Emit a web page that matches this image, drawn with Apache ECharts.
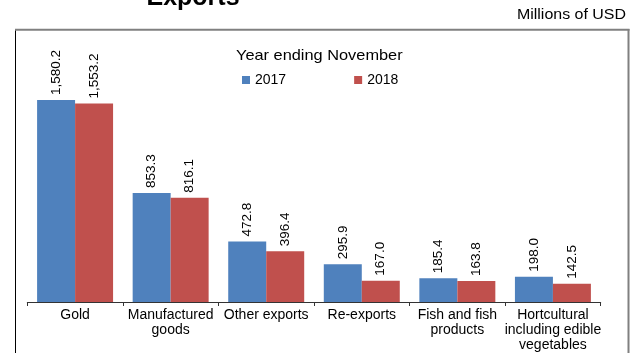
<!DOCTYPE html>
<html>
<head>
<meta charset="utf-8">
<script src="https://cdn.jsdelivr.net/npm/echarts@6/dist/echarts.min.js"></script>
<style>
  html, body { margin: 0; padding: 0; background: #fff; }
  #chart { width: 639px; height: 353px; }
</style>
</head>
<body>
<div id="chart"></div>
<script>
// Export categories (line breaks mark the wrapped axis labels)
const categories = [
  'Gold',
  'Manufactured\ngoods',
  'Other exports',
  'Re-exports',
  'Fish and fish\nproducts',
  'Hortcultural\nincluding edible\nvegetables'
];
const seriesNames = ['2017', '2018'];
// Millions of USD, year ending November
const values2017 = [1580.2, 853.3, 472.8, 295.9, 185.4, 198.0];
const values2018 = [1553.2, 816.1, 396.4, 167.0, 163.8, 142.5];

const FONT = '"Liberation Sans", Arial, sans-serif';

const fmt = v => v.toLocaleString('en-US', { minimumFractionDigits: 1, maximumFractionDigits: 1 });

const barLabel = {
  show: true,
  position: 'top',
  rotate: 90,
  align: 'left',
  verticalAlign: 'middle',
  distance: 5,
  color: '#000',
  fontFamily: FONT,
  fontSize: 13.5,
  formatter: p => fmt(p.value)
};

const chart = echarts.init(document.getElementById('chart'), null, { renderer: 'canvas' });

chart.setOption({
  animation: false,
  backgroundColor: '#ffffff',
  textStyle: { fontFamily: FONT },
  grid: { left: 27.3, right: 38.3, top: 46.3, bottom: 51 },
  legend: {
    data: seriesNames,
    icon: 'rect',
    itemWidth: 8,
    itemHeight: 8,
    itemGap: 68,
    padding: 0,
    left: 242,
    top: 73,
    textStyle: { color: '#000', fontSize: 14, fontFamily: FONT }
  },
  xAxis: {
    type: 'category',
    data: categories,
    boundaryGap: true,
    axisLine: { lineStyle: { color: '#333', width: 1 } },
    axisTick: { show: true, length: 4, lineStyle: { color: '#333' } },
    axisLabel: {
      interval: 0,
      margin: 6,
      color: '#000',
      fontSize: 14,
      lineHeight: 15,
      fontFamily: FONT
    }
  },
  yAxis: {
    type: 'value',
    min: 0,
    max: 2000,
    show: false,
    splitLine: { show: false }
  },
  series: [
    {
      name: seriesNames[0],
      type: 'bar',
      data: values2017,
      barGap: '0%',
      barCategoryGap: '20.5%',
      itemStyle: { color: '#4F81BD' },
      label: barLabel
    },
    {
      name: seriesNames[1],
      type: 'bar',
      data: values2018,
      barGap: '0%',
      barCategoryGap: '20.5%',
      itemStyle: { color: '#C0504D' },
      label: barLabel
    }
  ],
  graphic: [
    // frame around the chart area
    { type: 'line', shape: { x1: 15.5, y1: 29, x2: 15.5, y2: 353 }, style: { stroke: '#000', lineWidth: 1 } },
    { type: 'line', shape: { x1: 15, y1: 29.8, x2: 629.5, y2: 29.8 }, style: { stroke: '#808080', lineWidth: 2 } },
    { type: 'line', shape: { x1: 628.5, y1: 29, x2: 628.5, y2: 353 }, style: { stroke: '#808080', lineWidth: 2 } },
    // headline
    {
      type: 'text', x: 193, y: -2,
      style: { text: 'Exports', fill: '#000', font: 'bold 25px ' + FONT, textAlign: 'center', textVerticalAlign: 'middle' }
    },
    // unit note
    {
      type: 'text', x: 626, y: 15, scaleX: 1.14,
      style: { text: 'Millions of USD', fill: '#000', font: '14px ' + FONT, textAlign: 'right', textVerticalAlign: 'middle' }
    },
    // legend heading
    {
      type: 'text', x: 236, y: 56, scaleX: 1.09,
      style: { text: 'Year ending November', fill: '#000', font: '15px ' + FONT, textAlign: 'left', textVerticalAlign: 'middle' }
    }
  ]
});
</script>
</body>
</html>
